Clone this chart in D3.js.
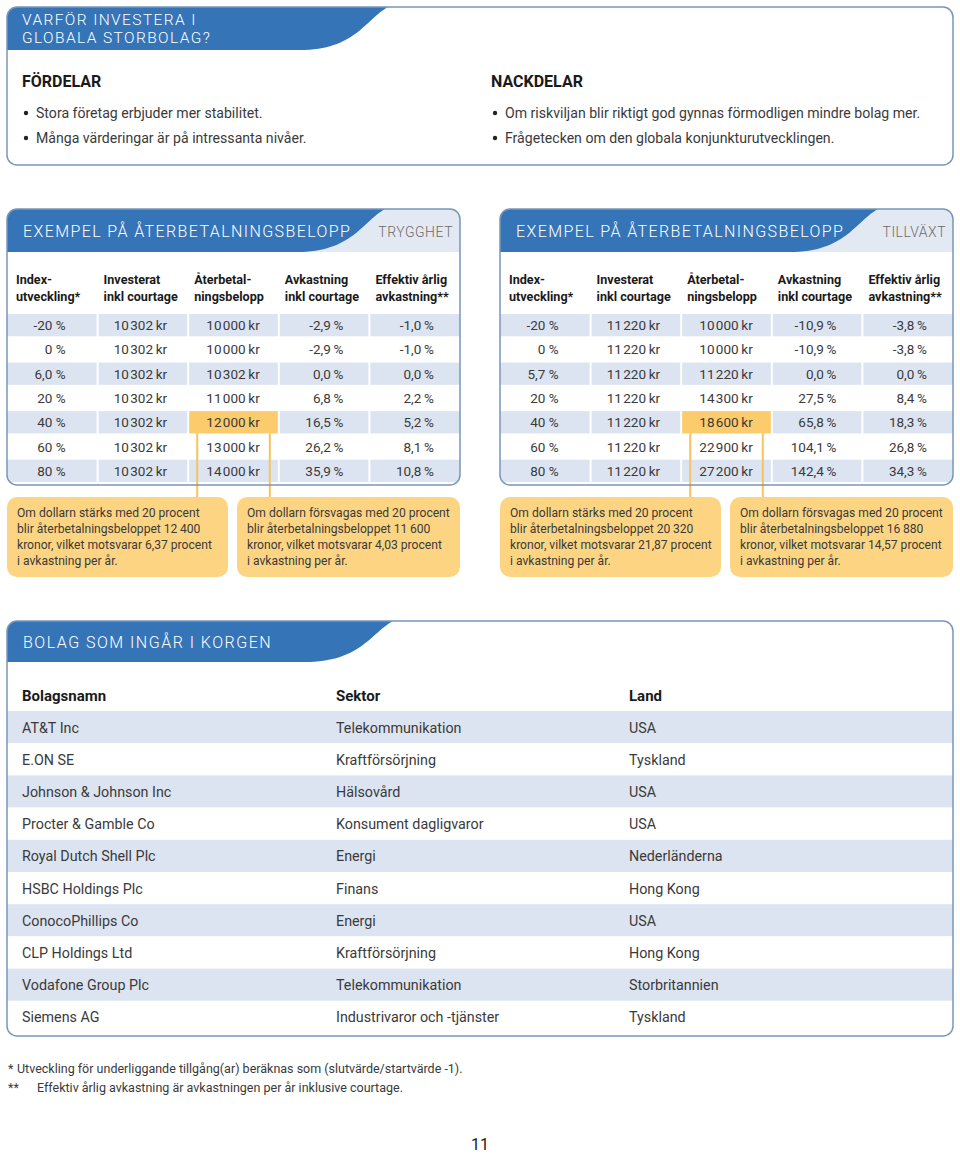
<!DOCTYPE html>
<html><head><meta charset="utf-8">
<script src="https://cdn.jsdelivr.net/npm/d3@7"></script>
<style>
body{margin:0;background:#fff}
svg{display:block;font-family:Roboto,"Liberation Sans",Arial,sans-serif}
</style>
</head><body>
<svg id="c" width="960" height="1154"></svg>
<script>
// ---------- DATA ----------
const topTitle = ["VARFÖR INVESTERA I", "GLOBALA STORBOLAG?"];
const prosTitle = "FÖRDELAR";
const pros = ["Stora företag erbjuder mer stabilitet.", "Många värderingar är på intressanta nivåer."];
const consTitle = "NACKDELAR";
const cons = ["Om riskviljan blir riktigt god gynnas förmodligen mindre bolag mer.", "Frågetecken om den globala konjunkturutvecklingen."];

const exampleTitle = "EXEMPEL PÅ ÅTERBETALNINGSBELOPP";
const colHeaders = [["Index-","utveckling*"],["Investerat","inkl courtage"],["Återbetal-","ningsbelopp"],["Avkastning","inkl courtage"],["Effektiv årlig","avkastning**"]];

const tryggLabel = "TRYGGHET";
const indexT = ["-20 %","0 %","6,0 %","20 %","40 %","60 %","80 %"];
const investedT = [10302,10302,10302,10302,10302,10302,10302];
const repaymentT = [10000,10000,10302,11000,12000,13000,14000];
const returnT = [-2.9,-2.9,0.0,6.8,16.5,26.2,35.9];
const annualT = [-1.0,-1.0,0.0,2.2,5.2,8.1,10.8];
const notesT = [
  ["Om dollarn stärks med 20 procent","blir återbetalningsbeloppet 12\u2009400","kronor, vilket motsvarar 6,37 procent","i avkastning per år."],
  ["Om dollarn försvagas med 20 procent","blir återbetalningsbeloppet 11\u2009600","kronor, vilket motsvarar 4,03 procent","i avkastning per år."]
];

const tillvLabel = "TILLVÄXT";
const indexG = ["-20 %","0 %","5,7 %","20 %","40 %","60 %","80 %"];
const investedG = [11220,11220,11220,11220,11220,11220,11220];
const repaymentG = [10000,10000,11220,14300,18600,22900,27200];
const returnG = [-10.9,-10.9,0.0,27.5,65.8,104.1,142.4];
const annualG = [-3.8,-3.8,0.0,8.4,18.3,26.8,34.3];
const notesG = [
  ["Om dollarn stärks med 20 procent","blir återbetalningsbeloppet 20\u2009320","kronor, vilket motsvarar 21,87 procent","i avkastning per år."],
  ["Om dollarn försvagas med 20 procent","blir återbetalningsbeloppet 16\u2009880","kronor, vilket motsvarar 14,57 procent","i avkastning per år."]
];
const highlightRow = 4, highlightCol = 2;

const basketTitle = "BOLAG SOM INGÅR I KORGEN";
const basketHeaders = ["Bolagsnamn","Sektor","Land"];
const companies = ["AT&T Inc","E.ON SE","Johnson & Johnson Inc","Procter & Gamble Co","Royal Dutch Shell Plc","HSBC Holdings Plc","ConocoPhillips Co","CLP Holdings Ltd","Vodafone Group Plc","Siemens AG"];
const sectors = ["Telekommunikation","Kraftförsörjning","Hälsovård","Konsument dagligvaror","Energi","Finans","Energi","Kraftförsörjning","Telekommunikation","Industrivaror och -tjänster"];
const countries = ["USA","Tyskland","USA","USA","Nederländerna","Hong Kong","USA","Hong Kong","Storbritannien","Tyskland"];

const footnotes = [["*","Utveckling för underliggande tillgång(ar) beräknas som (slutvärde/startvärde -1)."],["**","Effektiv årlig avkastning är avkastningen per år inklusive courtage."]];
const pageNumber = "11";

// ---------- STYLE ----------
const BLUE = "#3674b8", BORDER = "#7897b6", SHADE = "#dde4f1", LIGHTHEAD = "#e3e9f3";
const YELLOW = "#fdd582", HIGHLIGHT = "#fccb6c", LINEC = "#f8c35f", TXT = "#3a3a3a";

const loc = d3.formatLocale({decimal:",", thousands:"\u200A", grouping:[3], currency:["",""], minus:"-"});
const fKr = v => loc.format(",")(v) + "\u2009kr";
const fPct = v => loc.format(".1f")(v) + "\u2009%";

const svg = d3.select("#c");
const defs = svg.append("defs");

function panel(id, x, y, w, h, tabW, tabH, light){
  const g = svg.append("g");
  defs.append("clipPath").attr("id", id).append("rect")
    .attr("x", x).attr("y", y).attr("width", w).attr("height", h).attr("rx", 10);
  const inner = g.append("g").attr("clip-path", `url(#${id})`);
  inner.append("rect").attr("x", x).attr("y", y).attr("width", w).attr("height", h).attr("fill", "#fff");
  if (light) inner.append("rect").attr("x", x).attr("y", y).attr("width", w).attr("height", tabH).attr("fill", LIGHTHEAD);
  const p = d3.path();
  p.moveTo(x, y + tabH); p.lineTo(x, y); p.lineTo(x + tabW, y);
  p.bezierCurveTo(x + tabW - 23, y + 13, x + tabW - 33, y + tabH, x + tabW - 88, y + tabH);
  p.closePath();
  inner.append("path").attr("d", p.toString()).attr("fill", BLUE);
  return {g, inner, border(){
    g.append("rect").attr("x", x).attr("y", y).attr("width", w).attr("height", h).attr("rx", 10)
      .attr("fill", "none").attr("stroke", BORDER).attr("stroke-width", 1.5);
  }};
}

// ---------- TOP PANEL ----------
{
  const P = panel("cp0", 7, 7, 946, 158, 381, 43, false);
  P.inner.selectAll("text.tt").data(topTitle).join("text")
    .attr("x", 22).attr("y", (d,i) => 25 + i*18).attr("fill", "#fff")
    .attr("font-size", 15.5).attr("font-weight", 300).attr("letter-spacing", 1.4).text(d => d);
  const lists = [{x:22, title:prosTitle, items:pros},{x:491, title:consTitle, items:cons}];
  lists.forEach(L => {
    P.g.append("text").attr("x", L.x).attr("y", 87).attr("font-size", 16).attr("font-weight", 700)
      .attr("fill", "#1a1a1a").text(L.title);
    const it = P.g.selectAll(null).data(L.items).join("g");
    it.append("circle").attr("cx", L.x + 4).attr("cy", (d,i) => 113 + i*25).attr("r", 2.2).attr("fill", "#222");
    it.append("text").attr("x", L.x + 14).attr("y", (d,i) => 118 + i*25).attr("font-size", 14.1)
      .attr("fill", TXT).text(d => d);
  });
  P.border();
}

// ---------- EXAMPLE TABLES ----------
function exampleTable(id, x0, label, idx, inv, rep, ret, ann, notes){
  const W = 453, Y0 = 209, H = 276, tabH = 43;
  const P = panel(id, x0, Y0, W, H, 378, tabH, true);
  P.inner.append("text").attr("x", x0 + 16).attr("y", Y0 + 28).attr("fill", "#fff")
    .attr("font-size", 16).attr("font-weight", 300).attr("letter-spacing", 1.4).text(exampleTitle);
  P.inner.append("text").attr("x", x0 + W - 7).attr("y", Y0 + 28).attr("text-anchor", "end").attr("fill", "#6b6b6b")
    .attr("font-size", 14).attr("font-weight", 300).attr("letter-spacing", 0.5).text(label);

  const cx = d3.scaleBand().domain(d3.range(5)).range([x0, x0 + W]);
  const ry = d3.scaleBand().domain(d3.range(idx.length)).range([313, 483]);

  // headers
  const hg = P.g.selectAll(null).data(colHeaders).join("text")
    .attr("font-size", 12.6).attr("font-weight", 700).attr("fill", "#1a1a1a");
  hg.each(function(d, i){
    const t = d3.select(this);
    d.forEach((line, j) => t.append("tspan").attr("x", cx(i) + (i === 0 ? 9 : 6)).attr("y", 284 + j*17).text(line));
  });

  // cells
  const cols = [idx, inv.map(fKr), rep.map(fKr), ret.map(fPct), ann.map(fPct)];
  const rightPad = [32, 21, 19, 26, 26];
  const cells = [];
  cols.forEach((col, c) => col.forEach((v, r) => cells.push({c, r, v})));
  P.inner.selectAll("rect.cell").data(cells).join("rect").attr("class", "cell")
    .attr("x", d => cx(d.c) + (d.c ? 1 : 0)).attr("width", d => cx.bandwidth() - (d.c ? 2 : 1) + (d.c === 4 ? 1 : 0))
    .attr("y", d => ry(d.r) + 1).attr("height", ry.bandwidth() - 2)
    .attr("fill", d => (d.r === highlightRow && d.c === highlightCol) ? HIGHLIGHT : (d.r % 2 === 0 ? SHADE : "#fff"));
  // connector lines
  const hx0 = cx(highlightCol) + 9, hx1 = cx(highlightCol) + cx.bandwidth() - 9;
  P.g.selectAll(null).data([hx0, hx1]).join("line")
    .attr("x1", d => d).attr("x2", d => d).attr("y1", ry(highlightRow) + ry.bandwidth() - 1).attr("y2", 498)
    .attr("stroke", LINEC).attr("stroke-width", 2);
  P.g.selectAll("text.val").data(cells).join("text").attr("class", "val")
    .attr("x", d => cx(d.c) + cx.bandwidth() - rightPad[d.c]).attr("y", d => ry(d.r) + ry.bandwidth()/2 + 5)
    .attr("text-anchor", "end").attr("font-size", 13.5).attr("fill", TXT).text(d => d.v);
  P.border();

  // notes
  const nb = [{x: x0, w: 221}, {x: x0 + 230, w: 223}];
  notes.forEach((lines, i) => {
    svg.append("rect").attr("x", nb[i].x).attr("y", 497).attr("width", nb[i].w).attr("height", 80).attr("rx", 10).attr("fill", YELLOW);
    svg.append("g").selectAll("text").data(lines).join("text")
      .attr("x", nb[i].x + 10).attr("y", (d,j) => 517 + j*16).attr("font-size", 12.1).attr("fill", TXT).text(d => d);
  });
}
exampleTable("cp1", 7, tryggLabel, indexT, investedT, repaymentT, returnT, annualT, notesT);
exampleTable("cp2", 500, tillvLabel, indexG, investedG, repaymentG, returnG, annualG, notesG);

// ---------- BASKET ----------
{
  const P = panel("cp3", 7, 621, 946, 415, 386, 41, false);
  P.inner.append("text").attr("x", 23).attr("y", 648).attr("fill", "#fff")
    .attr("font-size", 16).attr("font-weight", 300).attr("letter-spacing", 1.5).text(basketTitle);
  const colX = [22, 336, 629];
  P.g.selectAll(null).data(basketHeaders).join("text").attr("x", (d,i) => colX[i]).attr("y", 701)
    .attr("font-size", 15).attr("font-weight", 700).attr("fill", "#1a1a1a").text(d => d);
  const ry = d3.scaleBand().domain(d3.range(companies.length)).range([711, 1033]);
  P.inner.selectAll("rect.row").data(companies).join("rect").attr("x", 7).attr("width", 946)
    .attr("y", (d,i) => ry(i)).attr("height", ry.bandwidth()).attr("fill", (d,i) => i % 2 === 0 ? SHADE : "#fff");
  [companies, sectors, countries].forEach((arr, c) => {
    P.g.append("g").selectAll("text").data(arr).join("text").attr("x", colX[c])
      .attr("y", (d,i) => ry(i) + ry.bandwidth()/2 + 5.5).attr("font-size", 14.3).attr("fill", TXT).text(d => d);
  });
  P.border();
}

// ---------- FOOTNOTES ----------
svg.append("g").selectAll("text").data(footnotes).join("text")
  .attr("y", (d,i) => 1073 + i*19).attr("font-size", 12.5).attr("fill", TXT)
  .each(function(d, i){
    const t = d3.select(this);
    t.append("tspan").attr("x", 8).text(d[0]);
    t.append("tspan").attr("x", i === 0 ? 17 : 37).text(d[1]);
  });
svg.append("text").attr("x", 480).attr("y", 1150).attr("text-anchor", "middle").attr("font-size", 16)
  .attr("fill", "#1a1a1a").text(pageNumber);
</script>
</body></html>
